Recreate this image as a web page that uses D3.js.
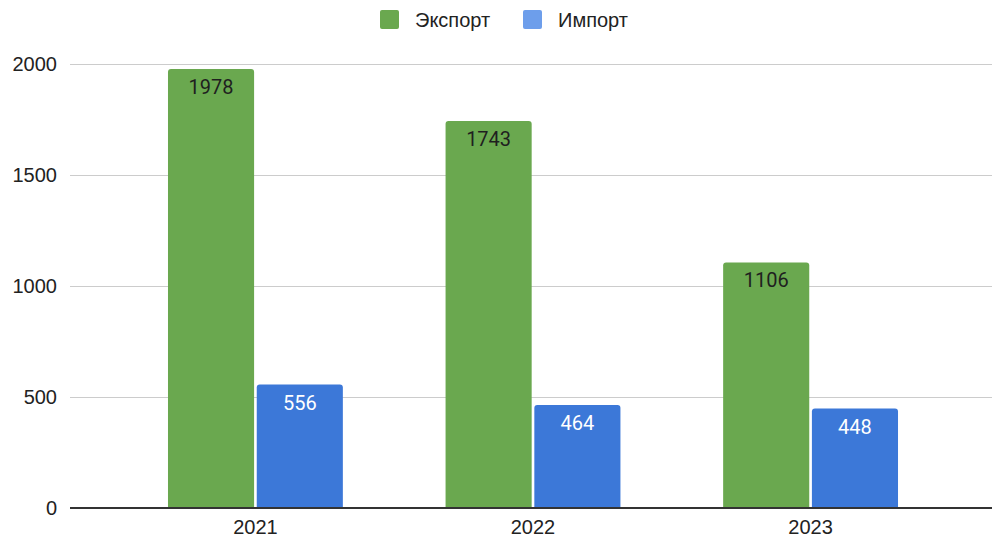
<!DOCTYPE html>
<html>
<head>
<meta charset="utf-8">
<script src="https://cdn.jsdelivr.net/npm/d3@7"></script>
<style>
  body { margin: 0; background: #fff; }
  text { font-family: "Liberation Sans", Arial, sans-serif; }
  text.val { font-family: Roboto, "Noto Sans", sans-serif; }
</style>
</head>
<body>
<svg id="chart" width="992" height="538"></svg>
<script>
var years = ['2021', '2022', '2023'];
var seriesNames = ['Экспорт', 'Импорт'];
var exportValues = [1978, 1743, 1106];
var importValues = [556, 464, 448];
var yTicks = [0, 500, 1000, 1500, 2000];

var colors = ['#6aa84f', '#3c78d8'];
var legendColors = ['#6aa84f', '#6d9eeb'];
var labelColors = ['#1f1f1f', '#ffffff'];

var svg = d3.select('#chart');
var plotLeft = 70, plotRight = 996, plotTop = 64, plotBottom = 508;

var x = d3.scaleBand()
  .domain(years)
  .range([plotLeft, plotRight])
  .paddingInner(0.37)
  .paddingOuter(0.353);

var x1 = d3.scaleBand()
  .domain(seriesNames)
  .range([0, x.bandwidth()])
  .paddingInner(0.03);

var y = d3.scaleLinear()
  .domain([0, 2000])
  .range([plotBottom, plotTop]);

// gridlines
svg.append('g')
  .selectAll('line')
  .data(yTicks.slice(1))
  .enter()
  .append('line')
  .attr('x1', plotLeft)
  .attr('x2', 992)
  .attr('y1', d => y(d) + 0.5)
  .attr('y2', d => y(d) + 0.5)
  .attr('stroke', '#cccccc')
  .attr('stroke-width', 1);

// y tick labels
svg.append('g')
  .selectAll('text')
  .data(yTicks)
  .enter()
  .append('text')
  .attr('x', 57)
  .attr('y', d => y(d) + 7)
  .attr('text-anchor', 'end')
  .attr('font-size', 20)
  .attr('fill', '#222')
  .text(d => d);

var rows = years.map((yr, i) => ({
  year: yr,
  values: [
    { name: seriesNames[0], value: exportValues[i], k: 0 },
    { name: seriesNames[1], value: importValues[i], k: 1 }
  ]
}));

// rounded-top bar path
function barPath(x0, y0, w, h, r) {
  return 'M' + x0 + ',' + (y0 + h) +
    'V' + (y0 + r) +
    'Q' + x0 + ',' + y0 + ' ' + (x0 + r) + ',' + y0 +
    'H' + (x0 + w - r) +
    'Q' + (x0 + w) + ',' + y0 + ' ' + (x0 + w) + ',' + (y0 + r) +
    'V' + (y0 + h) + 'Z';
}

var groups = svg.append('g')
  .selectAll('g')
  .data(rows)
  .enter()
  .append('g')
  .attr('transform', d => 'translate(' + x(d.year) + ',0)');

groups.selectAll('path')
  .data(d => d.values)
  .enter()
  .append('path')
  .attr('d', d => barPath(x1(d.name), y(d.value), x1.bandwidth(), plotBottom - y(d.value), 3))
  .attr('fill', d => colors[d.k]);

groups.selectAll('text')
  .data(d => d.values)
  .enter()
  .append('text')
  .attr('class', 'val')
  .attr('x', d => x1(d.name) + x1.bandwidth() / 2)
  .attr('y', d => y(d.value) + 25)
  .attr('text-anchor', 'middle')
  .attr('font-size', 20)
  .attr('fill', d => labelColors[d.k])
  .text(d => d.value);

// baseline
svg.append('line')
  .attr('x1', plotLeft)
  .attr('x2', 992)
  .attr('y1', plotBottom)
  .attr('y2', plotBottom)
  .attr('stroke', '#333')
  .attr('stroke-width', 2);

// x labels
svg.append('g')
  .selectAll('text')
  .data(years)
  .enter()
  .append('text')
  .attr('x', d => x(d) + x.bandwidth() / 2)
  .attr('y', 534)
  .attr('text-anchor', 'middle')
  .attr('font-size', 20)
  .attr('fill', '#222')
  .text(d => d);

// legend
var legendX = [380, 523];
var legend = svg.append('g')
  .selectAll('g')
  .data(seriesNames)
  .enter()
  .append('g')
  .attr('transform', (d, i) => 'translate(' + legendX[i] + ',10)');

legend.append('rect')
  .attr('width', 19)
  .attr('height', 19)
  .attr('rx', 2)
  .attr('fill', (d, i) => legendColors[i]);

legend.append('text')
  .attr('x', 35)
  .attr('y', 17)
  .attr('font-size', 20)
  .attr('fill', '#222')
  .text(d => d);
</script>
</body>
</html>
